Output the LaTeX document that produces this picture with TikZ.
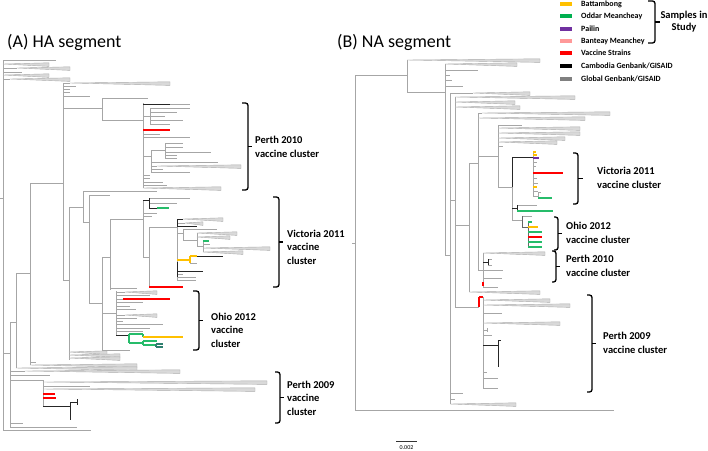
\documentclass[tikz,border=0pt]{standalone}
\usepackage{fontspec}
\setmainfont{Carlito}
\definecolor{cOr}{HTML}{FFC000}
\definecolor{cGr}{HTML}{00B050}
\definecolor{cPu}{HTML}{7030A0}
\definecolor{cPk}{HTML}{FF9999}
\definecolor{cRd}{HTML}{FF0000}
\definecolor{cGy}{HTML}{808080}
\definecolor{cTl}{HTML}{2F7F6F}
\newcommand{\hbr}[4][gl]{\draw[#1] (#2,#4) -- (#3,#4);}
\newcommand{\vbr}[4][gl]{\draw[#1] (#2,#3) -- (#2,#4);}
\newcommand{\wdg}[3]{\draw[wdgs] (#1,#3) -- (#2,#3-1.2) -- (#2,#3+2.4) -- cycle;}
\newcommand{\brak}[5]{\draw[brks] (#1,#3) -- (#2,#3) -- (#2,#4) -- (#1,#4); \draw[brks] (#2,{(#3+#4)/2}) -- (#5,{(#3+#4)/2});}
\tikzset{
 gl/.style={draw=gray!70, line width=0.7pt},
 bk/.style={draw=black!85, line width=0.9pt},
 dk/.style={draw=black!60, line width=0.9pt},
 rd/.style={draw=cRd, line width=1.2pt},
 gn/.style={draw=cGr!85, line width=1.1pt},
 orn/.style={draw=cOr, line width=1.1pt},
 pu/.style={draw=cPu, line width=1.1pt},
 tl/.style={draw=cTl, line width=1.1pt},
 wdgs/.style={draw=gray!65, fill=gray!30, line width=0.4pt},
 brks/.style={draw=black, line width=1.3pt, rounded corners=2.5pt},
 lbl/.style={anchor=west, inner sep=0pt, align=left, font=\bfseries\fontsize{10.5}{13.5}\selectfont},
 ttl/.style={anchor=base west, inner sep=0pt, font=\fontsize{18}{20}\selectfont},
 leg/.style={anchor=west, inner sep=0pt, font=\bfseries\fontsize{8}{9}\selectfont},
 lbox/.style={minimum width=12pt, minimum height=4.5pt, inner sep=0pt, draw=none}
}
\begin{document}
\begin{tikzpicture}[x=1pt,y=-1pt]
\useasboundingbox (0,0) rectangle (708,450);
\fill[white] (0,0) rectangle (708,450);
% ---------------- HA tree ----------------
\hbr{0}{3}{198}
\vbr{3}{60}{430}
\hbr{3}{56}{60}
\wdg{3}{49}{64}
\hbr{3}{17}{68}\wdg{17}{70}{68}
\hbr{3}{22}{72}
\wdg{3}{49}{75}
\hbr{3}{10}{79}\wdg{10}{70}{79}
\vbr{63}{83}{280}
\hbr{30}{63}{183}
\hbr{63}{70}{83}\wdg{70}{170}{83}
\hbr{63}{76}{86}\hbr{63}{70}{89}\hbr{63}{70}{92}\hbr{63}{90}{96}
\hbr{63}{102}{108}
\vbr{102}{98}{120}
\hbr{102}{148}{98}
\hbr{102}{143}{120}
% Perth 2010 (HA)
\vbr{143}{103}{188}
\hbr{170}{190}{104}
\vbr{150}{108}{124}
\hbr{150}{190}{108}\hbr{150}{177}{112}\hbr{143}{165}{116}\hbr{150}{183}{120}\hbr{150}{170}{124}
\hbr{143}{160}{134}
\hbr{143}{190}{137}
\vbr{151}{150}{172}\hbr{143}{151}{156}
\vbr{165}{143}{158}\hbr{151}{165}{150}
\hbr{165}{183}{143}\hbr{165}{183}{147}\hbr{165}{211}{152}\hbr{165}{177}{155}\hbr{165}{177}{158}
\hbr{151}{218}{162}\hbr{151}{157}{166}\wdg{157}{241}{166}\hbr{151}{163}{169}\hbr{151}{190}{172}
\hbr{143}{150}{175}\hbr{143}{150}{178}\hbr{143}{163}{182}\hbr{143}{167}{185}\wdg{143}{221}{188}
\hbr[bk]{143}{170}{104}
\hbr[rd]{143}{170}{130}
% lower backbone
\vbr{30}{183}{365}
\hbr{16}{30}{273}
\hbr{30}{36}{362}
\wdg{30}{137}{365}
\vbr{16}{273}{368}
\hbr{10}{16}{322}
\wdg{16}{137}{368}
\vbr{10}{322}{427}
\hbr{3}{10}{353}
\hbr{10}{25}{371}\wdg{25}{180}{371}
\hbr{10}{50}{375}
\hbr{10}{43}{380}
\vbr{43}{380}{406}
\wdg{43}{267}{382}
\hbr{43}{90}{386}
\wdg{43}{255}{389}
\hbr[rd]{43}{55}{394}\hbr[rd]{43}{56}{398}
\hbr[bk]{43}{70}{406}\vbr[bk]{70}{402}{420}\hbr[bk]{70}{77}{402}\vbr[bk]{77}{399}{405}
\hbr{10}{23}{423}\hbr{10}{77}{427}
\hbr{3}{91}{430}
% middle clade
\vbr{69}{207}{360}
\hbr{63}{69}{280}
\hbr{69}{83}{207}
\wdg{69}{107}{352}\wdg{69}{120}{355}\wdg{69}{120}{358}
\vbr{83}{191}{222}
\hbr{83}{157}{191}
\hbr{83}{89}{222}
\vbr{89}{195}{303}
\hbr{89}{110}{195}
\hbr{89}{102}{303}
\vbr{102}{257}{350}
\hbr{102}{110}{257}
\hbr{102}{130}{350}
\hbr{102}{116}{313}
\vbr{110}{219}{290}
\hbr{110}{143}{219}
\hbr{110}{137}{288}
% Ohio 2012 (HA)
\vbr{116}{291}{335}
\hbr{116}{125}{292}\wdg{125}{157}{292}
\hbr{116}{150}{295}
\hbr{116}{123}{299}
\hbr{116}{143}{302}\hbr{116}{130}{306}\hbr{116}{136}{309}
\hbr{116}{125}{315}\wdg{125}{157}{315}
\hbr{116}{137}{318}\hbr{116}{123}{321}\hbr{116}{163}{324}\hbr{116}{150}{328}\hbr{116}{143}{331}
\hbr[rd]{123}{170}{299}
\hbr[bk]{116}{129}{335}
\vbr[gn]{129}{334}{343}
\hbr[gn]{129}{143}{334}\vbr[gn]{143}{334}{337}\hbr[orn]{143}{183}{337}
\hbr[gn]{129}{143}{343}\vbr[gn]{143}{341}{345}\hbr[gn]{143}{157}{341}\hbr[gn]{143}{156}{345}
\vbr[tl]{156}{344}{347}\hbr[tl]{156}{163}{344}\hbr[tl]{156}{163}{347}
% Victoria 2011 (HA)
\vbr{143}{200}{257}
\hbr{149}{190}{198}\hbr{149}{177}{203}
\hbr{143}{157}{213}\hbr{143}{152}{216}
\hbr{143}{149}{257}
\vbr{149}{227}{287}
\hbr{149}{177}{227}
\vbr{177}{219}{280}
\wdg{183}{223}{219}
\hbr{177}{185}{223}\wdg{185}{203}{223}
\hbr{177}{183}{233}\vbr{183}{229}{240}\hbr{183}{217}{229}\hbr{183}{197}{240}
\vbr{197}{233}{246}\wdg{197}{237}{233}\wdg{197}{230}{237}\hbr{197}{203}{246}
\vbr{203}{241}{252}\hbr{203}{210}{244}\wdg{203}{270}{248}\wdg{203}{243}{252}
\hbr{190}{197}{263}
\hbr{177}{183}{274}\hbr{177}{196}{277}\hbr{177}{196}{280}
\hbr[bk]{143}{149}{200}\vbr[bk]{149}{198}{208}
\hbr[bk]{149}{157}{208}\hbr[gn]{157}{169}{208}
\vbr[bk]{177}{219}{227}\vbr[bk]{177}{262}{277}
\hbr[bk]{177}{183}{219}
\hbr[bk]{177}{197}{226}
\hbr[gn]{203}{209}{241}
\hbr[orn]{177}{190}{260}\vbr[orn]{190}{256}{263}\hbr[orn]{190}{197}{256}\hbr[bk]{197}{223}{256}
\hbr[bk]{177}{203}{271}
\hbr[rd]{149}{183}{287}
% HA brackets and labels
\brak{242}{248}{103}{190}{252}
\brak{273}{279}{197}{287}{283}
\brak{193}{199}{291}{350}{203}
\brak{275}{280}{372}{423}{284}
\node[lbl] (lhp10) at (255,147) {Perth 2010\\vaccine cluster};
\node[lbl] (lhv11) at (287,247) {Victoria 2011\\vaccine\\cluster};
\node[lbl] (lho12) at (211,330) {Ohio 2012\\vaccine\\cluster};
\node[lbl] (lhp09) at (287,398) {Perth 2009\\vaccine\\cluster};
\node[ttl] (tA) at (7,47) {(A) HA segment};
% ---------------- NA tree ----------------
\hbr{352}{355}{243}
\vbr{355}{75}{410}
\hbr{355}{407}{75}
\vbr{407}{60}{92}
\wdg{407}{540}{60}
\hbr{407}{445}{92}
\vbr{445}{64}{255}
\wdg{445}{517}{64}
\hbr{445}{478}{70}\hbr{445}{450}{75}\hbr{445}{452}{80}\hbr{445}{463}{86}
\hbr{445}{450}{255}
\vbr{450}{93}{404}
\hbr{450}{473}{93}\wdg{473}{530}{93}
\hbr{450}{455}{200}
\hbr{450}{463}{393}\hbr{450}{455}{399}\wdg{450}{516}{404}
\vbr{455}{97}{307}
\wdg{455}{575}{97}\wdg{455}{515}{102}\wdg{455}{520}{107}
\hbr{455}{469}{225}
\hbr{455}{479}{307}
\vbr{469}{163}{292}
\hbr{469}{478}{163}
\wdg{469}{540}{292}
\vbr{478}{113}{270}
\hbr{478}{482}{113}\wdg{482}{610}{113}
\wdg{478}{585}{118}
\hbr{478}{498}{156}
\hbr{478}{483}{270}
\vbr{498}{125}{187}
\hbr{498}{522}{125}\wdg{498}{580}{128}\wdg{498}{580}{133}\wdg{498}{565}{138}\wdg{498}{557}{142}\hbr{498}{503}{146}
\hbr{498}{512}{187}
\vbr{512}{187}{220}
\hbr{512}{522}{220}
% Victoria 2011 (NA)
\vbr{533}{152}{196}
\hbr{533}{537}{162}\hbr{533}{536}{166}\hbr{533}{537}{178}\hbr{533}{538}{183}\hbr{533}{538}{191}\hbr{533}{538}{196}
\vbr{538}{192}{198}\hbr{538}{541}{192}
\hbr{517}{537}{205}
\hbr{522}{532}{216}
\vbr[bk]{512}{157}{187}
\hbr[bk]{512}{533}{157}
\hbr[bk]{512}{517}{208}
\hbr[orn]{533}{536}{152}\hbr[orn]{533}{537}{155}\hbr[pu]{533}{539}{158}\hbr[rd]{533}{563}{173}\hbr[orn]{533}{537}{187}
\hbr[gn]{538}{552}{198}
\vbr[bk]{517}{205}{211}\hbr[gn]{517}{553}{211}
\vbr[dk]{522}{216}{227}\hbr[dk]{522}{528}{227}
\vbr[dk]{528}{222}{247}
\hbr[gn]{528}{532}{222}\hbr[orn]{528}{538}{227}\hbr[gn]{528}{542}{232}\hbr[rd]{528}{542}{237}\hbr[gn]{528}{542}{242}\hbr[gn]{528}{542}{247}
% Perth 2010 (NA)
\vbr{483}{253}{287}
\wdg{483}{545}{253}
\hbr{488}{492}{259}\hbr{488}{492}{265}
\hbr{483}{503}{270}\hbr{483}{502}{278}\hbr{483}{498}{287}
\hbr[bk]{483}{488}{262}\vbr[bk]{488}{259}{265}
\vbr[rd]{483}{282}{286}
% Perth 2009 (NA)
\vbr{483}{297}{388}
\wdg{483}{550}{300}\wdg{483}{570}{305}\hbr{483}{502}{313}\wdg{483}{560}{323}
\hbr{483}{487}{330}\vbr{487}{328}{332}
\hbr{483}{492}{335}
\hbr{483}{487}{372}\hbr{483}{498}{378}\hbr{483}{498}{388}
\hbr[bk]{483}{498}{345}\vbr[bk]{498}{340}{367}\hbr[bk]{498}{501}{340}
\vbr[rd]{479}{297}{307}\hbr[rd]{479}{483}{297}
\hbr{355}{614}{410}
% NA brackets and labels
\brak{573}{578}{153}{204}{583}
\brak{554}{558}{217}{250}{562}
\brak{552}{556}{251}{282}{560}
\brak{587}{592}{295}{392}{596}
\node[lbl] (lnv11) at (597,178) {Victoria 2011\\vaccine cluster};
\node[lbl] (lno12) at (566,233) {Ohio 2012\\vaccine cluster};
\node[lbl] (lnp10) at (566,266) {Perth 2010\\vaccine cluster};
\node[lbl] (lnp09) at (603,343) {Perth 2009\\vaccine cluster};
\node[ttl] (tB) at (337,47) {(B) NA segment};
% scale bar
\coordinate (sb1) at (396,441);
\coordinate (sb2) at (417,441);
\draw[black!80, line width=0.6pt] (sb1) -- (sb2);
\node[inner sep=0pt, font=\fontsize{6}{7}\selectfont] (sbt) at (406.5,448) {0.002};
% ---------------- legend ----------------
\node[lbox, fill=cOr] (k1) at (566,4) {};
\node[lbox, fill=cGr] (k2) at (566,16) {};
\node[lbox, fill=cPu] (k3) at (566,29) {};
\node[lbox, fill=cPk] (k4) at (566,41) {};
\node[lbox, fill=cRd] (k5) at (566,53) {};
\node[lbox, fill=black] (k6) at (566,66) {};
\node[lbox, fill=cGy] (k7) at (566,79) {};
\node[leg] (t1) at (581,4) {Battambong};
\node[leg] (t2) at (581,16) {Oddar Meancheay};
\node[leg] (t3) at (581,29) {Pailin};
\node[leg] (t4) at (581,41) {Banteay Meanchey};
\node[leg] (t5) at (581,53) {Vaccine Strains};
\node[leg] (t6) at (581,66) {Cambodia Genbank/GISAID};
\node[leg] (t7) at (581,79) {Global Genbank/GISAID};
\brak{648}{655}{1}{43}{660}
\node[inner sep=0pt, align=center, font=\bfseries\fontsize{10.5}{12}\selectfont] (tss) at (684,22) {Samples in\\Study};
\end{tikzpicture}
\end{document}
